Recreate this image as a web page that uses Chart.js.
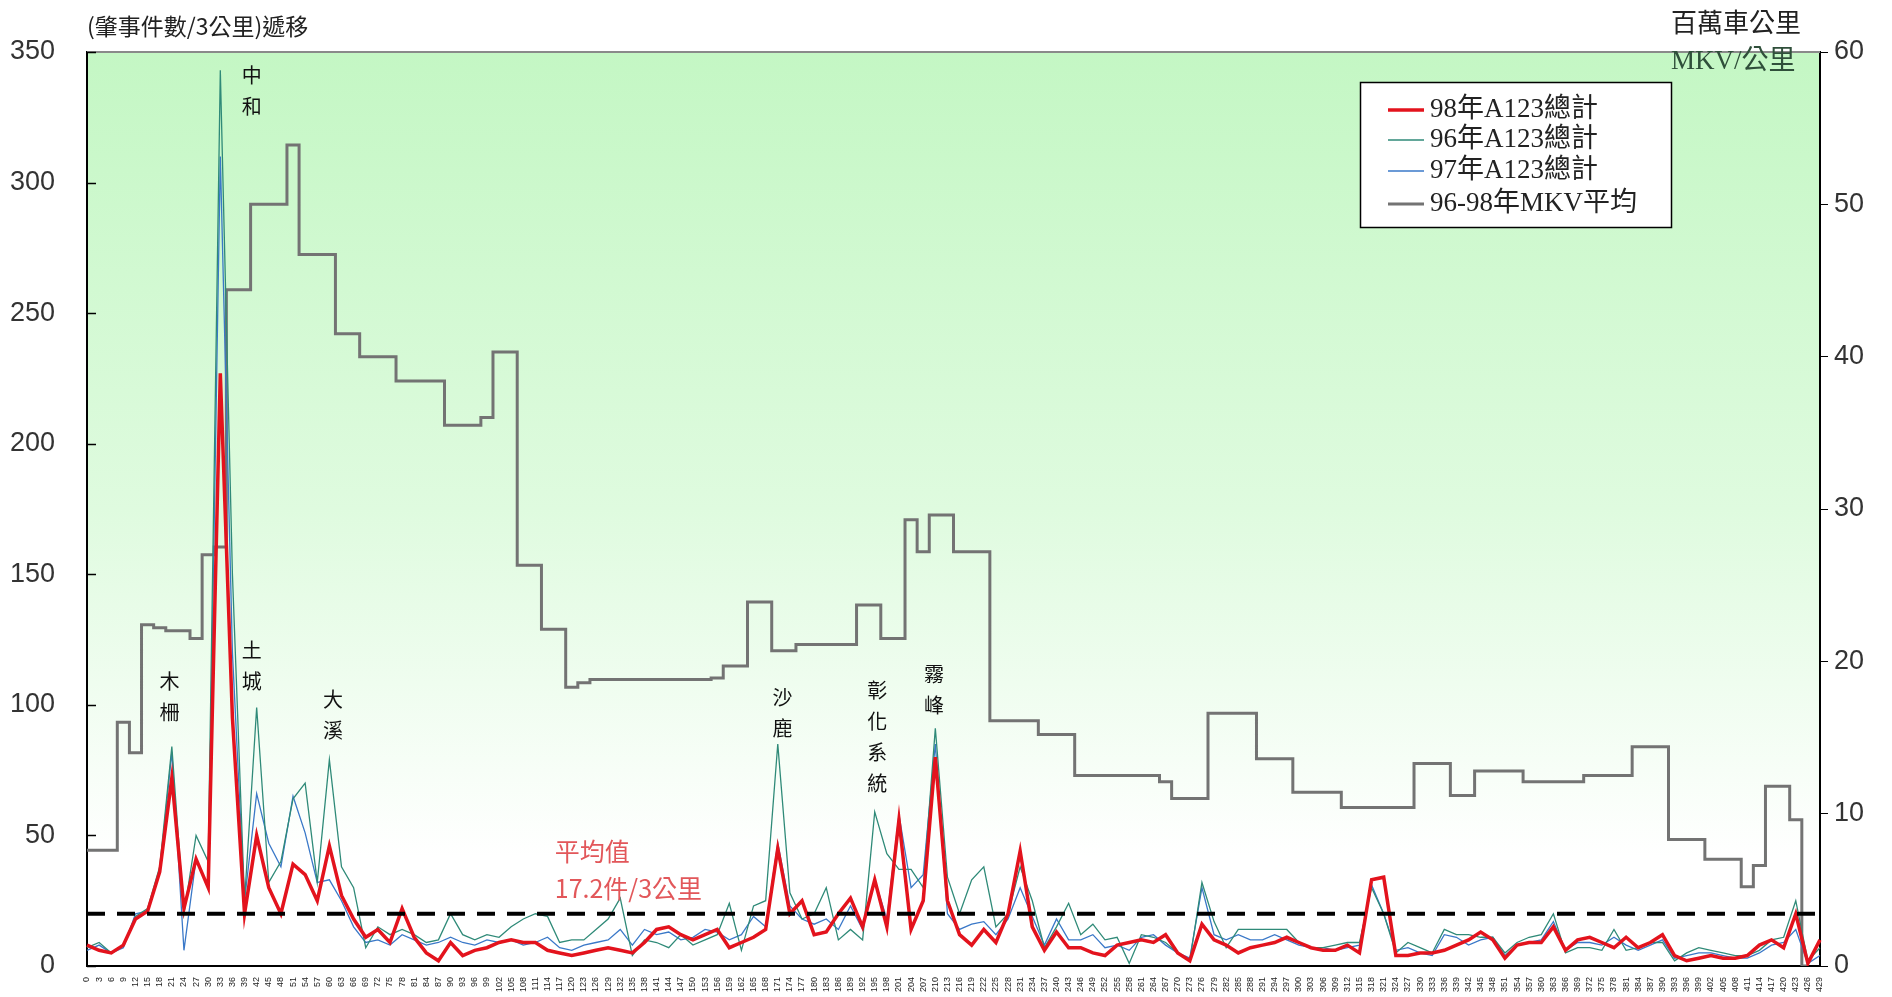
<!DOCTYPE html>
<html lang="zh-Hant">
<head>
<meta charset="UTF-8">
<title>肇事件數/3公里 遞移</title>
<script src="https://cdn.jsdelivr.net/npm/chart.js@4.4.1/dist/chart.umd.min.js"></script>
<style>
  html, body { margin: 0; padding: 0; background: #fff; }
</style>
</head>
<body>
<canvas id="c" width="1892" height="997"></canvas>
<script>
// 里程 (公里), 每 3 公里一點
const kmLabels = [
  0,3,6,9,12,15,18,21,24,27,
  30,33,36,39,42,45,48,51,54,57,
  60,63,66,69,72,75,78,81,84,87,
  90,93,96,99,102,105,108,111,114,117,
  120,123,126,129,132,135,138,141,144,147,
  150,153,156,159,162,165,168,171,174,177,
  180,183,186,189,192,195,198,201,204,207,
  210,213,216,219,222,225,228,231,234,237,
  240,243,246,249,252,255,258,261,264,267,
  270,273,276,279,282,285,288,291,294,297,
  300,303,306,309,312,315,318,321,324,327,
  330,333,336,339,342,345,348,351,354,357,
  360,363,366,369,372,375,378,381,384,387,
  390,393,396,399,402,405,408,411,414,417,
  420,423,426,429
].map(String);

// 98年A123總計
const a123y98 = [
  8,6,5,8,18,21,36,72,22,41,
  30,227,95,20,50,30,20,39,35,25,
  46,27,18,11,14,9,22,11,5,2,
  9,4,6,7,9,10,9,9,6,5,
  4,5,6,7,6,5,9,14,15,12,
  10,12,14,7,9,11,14,45,20,25,
  12,13,20,26,15,33,15,56,14,25,
  80,25,12,8,14,9,20,44,15,6,
  13,7,7,5,4,8,9,10,9,12,
  5,2,16,10,8,5,7,8,9,11,
  9,7,6,6,8,5,33,34,4,4,
  5,5,6,8,10,13,10,3,8,9,
  9,15,6,10,11,9,7,11,7,9,
  12,4,2,3,4,3,3,4,8,10,
  7,20,1,10
];

// 96年A123總計
const a123y96 = [
  7,9,5,8,19,22,38,84,20,50,
  40,343,150,25,99,32,40,64,70,32,
  79,38,30,7,15,12,14,12,9,10,
  20,12,10,12,11,15,18,20,19,9,
  10,10,14,18,26,4,10,9,7,12,
  8,10,12,24,6,23,25,85,28,18,
  20,30,10,14,10,59,43,37,37,30,
  91,34,20,33,38,15,20,38,25,7,
  15,24,12,16,10,11,1,12,11,9,
  5,2,32,17,7,14,14,14,14,14,
  9,7,7,8,9,9,30,20,5,9,
  7,5,14,12,12,11,11,5,9,11,
  12,20,5,7,7,6,14,6,7,9,
  9,2,5,7,6,5,4,4,6,10,
  11,25,2,7
];

// 97年A123總計
const a123y97 = [
  6,8,5,7,20,21,36,82,6,41,
  30,310,120,25,66,47,38,65,51,32,
  33,25,15,9,10,8,12,10,8,9,
  11,9,8,10,9,10,8,9,11,7,
  6,8,9,10,14,8,14,12,13,10,
  11,14,13,10,12,19,15,47,23,18,
  16,18,14,23,14,33,18,58,30,35,
  85,20,14,16,17,12,18,30,19,8,
  18,10,10,12,7,8,6,11,12,8,
  5,3,30,12,10,12,10,10,12,10,
  8,7,7,6,7,8,31,20,6,7,
  5,4,12,11,8,10,11,4,8,9,
  10,17,6,9,9,8,11,8,6,8,
  10,3,4,5,5,4,3,3,5,8,
  9,14,1,4
];

// 96-98年MKV平均 (右軸, 百萬車公里)
const mkvAvg = [
  7.6,7.6,7.6,16,14,22.4,22.2,22,22,21.5,
  27,27.5,44.4,44.4,50,50,50,53.9,46.7,46.7,
  46.7,41.5,41.5,40,40,40,38.4,38.4,38.4,38.4,
  35.5,35.5,35.5,36,40.3,40.3,26.3,26.3,22.1,22.1,
  18.3,18.6,18.8,18.8,18.8,18.8,18.8,18.8,18.8,18.8,
  18.8,18.8,18.9,19.7,19.7,23.9,23.9,20.7,20.7,21.1,
  21.1,21.1,21.1,21.1,23.7,23.7,21.5,21.5,29.3,27.2,
  29.6,29.6,27.2,27.2,27.2,16.1,16.1,16.1,16.1,15.2,
  15.2,15.2,12.5,12.5,12.5,12.5,12.5,12.5,12.5,12.1,
  11,11,11,16.6,16.6,16.6,16.6,13.6,13.6,13.6,
  11.4,11.4,11.4,11.4,10.4,10.4,10.4,10.4,10.4,10.4,
  13.3,13.3,13.3,11.2,11.2,12.8,12.8,12.8,12.8,12.1,
  12.1,12.1,12.1,12.1,12.5,12.5,12.5,12.5,14.4,14.4,
  14.4,8.3,8.3,8.3,7,7,7,5.2,6.6,11.8,
  11.8,9.6,0,null
];

// 平均線
const avgLine = 20;
const avgText = ['平均值', '17.2件/3公里'];

// 地名標註: [文字, 位置(點序), 值]
const placeNames = ['木柵', '中和', '土城', '大溪', '沙鹿', '彰化系統', '霧峰'];
const placeIdx   = [6.8, 13.6, 13.6, 20.3, 57.4, 65.2, 69.9];
const placeVal   = [109, 341, 121, 102, 103, 105.5, 111.6];

const leftTicks = [0, 50, 100, 150, 200, 250, 300, 350];

const CJK = "'Noto Sans CJK TC', 'Noto Sans CJK JP', sans-serif";
const SERIF = "'Liberation Serif', 'Noto Sans CJK TC', serif";
const NARROW = "'Liberation Sans Narrow', 'Liberation Sans', sans-serif";

const deco = {
  id: 'deco',
  beforeDraw(chart) {
    const { ctx, chartArea: a } = chart;
    ctx.save();
    const g = ctx.createLinearGradient(0, a.top, 0, a.bottom);
    g.addColorStop(0, '#c4f7c4');
    g.addColorStop(0.5, '#dffbdf');
    g.addColorStop(0.88, '#ffffff');
    ctx.fillStyle = g;
    ctx.fillRect(a.left, a.top, a.right - a.left, a.bottom - a.top);
    ctx.restore();
  },
  afterDatasetsDraw(chart) {
    const { ctx, chartArea: a, scales } = chart;
    const x = scales.x, y = scales.y;
    ctx.save();
    // 上框線
    ctx.strokeStyle = '#8a8a8a';
    ctx.lineWidth = 2;
    ctx.beginPath();
    ctx.moveTo(a.left, a.top);
    ctx.lineTo(a.right, a.top);
    ctx.stroke();
    // 左軸內刻度
    ctx.strokeStyle = '#000';
    ctx.lineWidth = 1.5;
    leftTicks.forEach(v => {
      const py = Math.round(y.getPixelForValue(v)) + 0.5;
      ctx.beginPath();
      ctx.moveTo(a.left, py);
      ctx.lineTo(a.left + 9, py);
      ctx.stroke();
    });
    // 地名 (直書)
    ctx.fillStyle = '#111';
    ctx.font = '20px ' + CJK;
    ctx.textAlign = 'center';
    ctx.textBaseline = 'middle';
    placeNames.forEach((name, k) => {
      const px = x.getPixelForValue(placeIdx[k]);
      const py = y.getPixelForValue(placeVal[k]);
      [...name].forEach((ch, j) => ctx.fillText(ch, px, py + j * 31));
    });
    // 平均值
    ctx.fillStyle = '#e2575a';
    ctx.font = '25px ' + CJK;
    ctx.textAlign = 'left';
    const ax = x.getPixelForValue(38.6);
    ctx.fillText(avgText[0], ax, y.getPixelForValue(44));
    ctx.fillText(avgText[1], ax, y.getPixelForValue(29.6));
    ctx.restore();
  },
  afterDraw(chart) {
    const { ctx } = chart;
    ctx.save();
    ctx.textBaseline = 'middle';
    // 軸標題
    ctx.fillStyle = '#222';
    ctx.font = '23px ' + CJK;
    ctx.textAlign = 'left';
    ctx.fillText('(肇事件數/3公里)遞移', 87, 26);
    ctx.font = '26px ' + CJK;
    ctx.fillText('百萬車公里', 1671, 22);
    ctx.fillStyle = '#2f4f3a';
    ctx.font = '27px ' + SERIF;
    ctx.fillText('MKV/公里', 1671, 62);
    // 圖例
    const bx = 1360, by = 82, bw = 311, bh = 145;
    ctx.fillStyle = '#fff';
    ctx.fillRect(bx, by, bw, bh);
    ctx.strokeStyle = '#000';
    ctx.lineWidth = 1.5;
    ctx.strokeRect(bx + 0.5, by + 0.5, bw, bh);
    ctx.font = '27px ' + SERIF;
    const rows = [110, 140, 171, 204];
    chart.data.datasets.slice(0, 4).forEach((ds, k) => {
      ctx.strokeStyle = ds.borderColor;
      ctx.lineWidth = Math.max(ds.borderWidth, 1.5);
      ctx.beginPath();
      ctx.moveTo(1388, rows[k]);
      ctx.lineTo(1424, rows[k]);
      ctx.stroke();
      ctx.fillStyle = '#222';
      ctx.fillText(ds.label, 1430, rows[k]);
    });
    ctx.restore();
  }
};

new Chart(document.getElementById('c'), {
  type: 'line',
  data: {
    labels: kmLabels,
    datasets: [
      { label: '98年A123總計', data: a123y98, yAxisID: 'y', borderColor: '#e3131d', borderWidth: 3.5, order: 1 },
      { label: '96年A123總計', data: a123y96, yAxisID: 'y', borderColor: '#2f8a78', borderWidth: 1.3, order: 2 },
      { label: '97年A123總計', data: a123y97, yAxisID: 'y', borderColor: '#3a78c8', borderWidth: 1.3, order: 3 },
      { label: '96-98年MKV平均', data: mkvAvg, yAxisID: 'y1', borderColor: '#737373', borderWidth: 3, stepped: 'middle', order: 4 },
      { label: '平均線', data: [{ x: kmLabels[0], y: avgLine }, { x: kmLabels[kmLabels.length - 1], y: avgLine }],
        yAxisID: 'y', borderColor: '#000', borderWidth: 4, borderDash: [18, 12], order: 0 }
    ]
  },
  options: {
    responsive: false,
    devicePixelRatio: 1,
    animation: false,
    elements: { point: { radius: 0 }, line: { tension: 0, fill: false } },
    layout: { padding: { top: 52, left: 0, right: 0, bottom: 0 } },
    plugins: { legend: { display: false }, tooltip: { enabled: false } },
    scales: {
      x: {
        afterFit(s) { s.height = 31; s.paddingLeft = 0; s.paddingRight = 0; },
        grid: { display: false },
        border: { display: true, color: '#000', width: 2 },
        ticks: { autoSkip: false, minRotation: 90, maxRotation: 90, padding: 3, color: '#222', font: { size: 9, family: NARROW } }
      },
      y: {
        position: 'left',
        min: 0, max: 350,
        afterFit(s) { s.width = 87; s.paddingTop = 0; s.paddingBottom = 0; },
        grid: { drawOnChartArea: false, drawTicks: false },
        border: { display: true, color: '#000', width: 2 },
        ticks: { stepSize: 50, padding: 32, color: '#333', font: { size: 27, family: NARROW } }
      },
      y1: {
        position: 'right',
        min: 0, max: 60,
        afterFit(s) { s.width = 72; s.paddingTop = 0; s.paddingBottom = 0; },
        grid: { drawOnChartArea: false, drawTicks: true, tickLength: 8, color: '#000' },
        border: { display: true, color: '#000', width: 2 },
        ticks: { stepSize: 10, padding: 6, color: '#333', font: { size: 27, family: NARROW } }
      }
    }
  },
  plugins: [deco]
});
</script>
</body>
</html>
